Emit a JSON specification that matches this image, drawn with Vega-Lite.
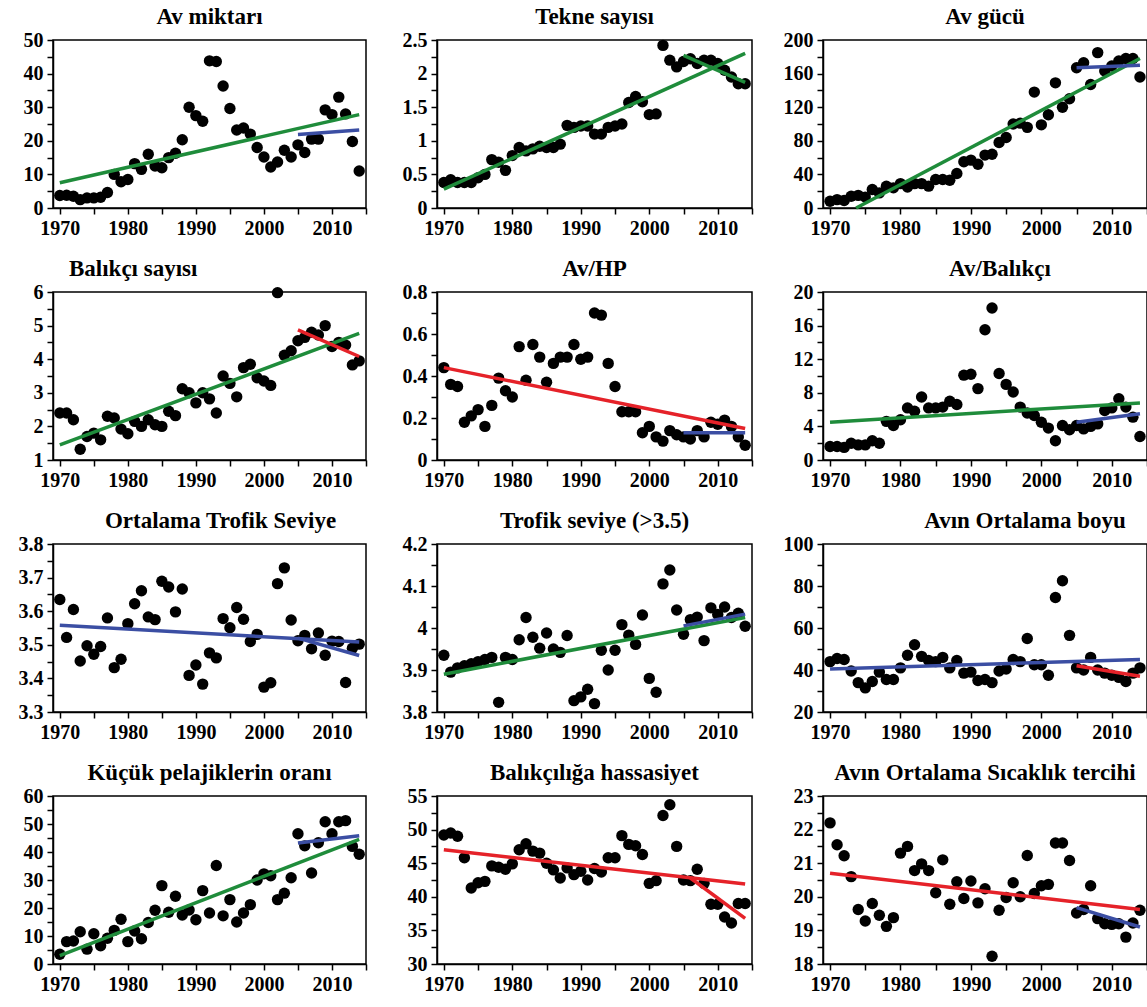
{
"$schema": "https://vega.github.io/schema/vega-lite/v6.json",
"padding": {"left": 5, "top": 5, "right": 0, "bottom": 0},
"background": "white",
"datasets": {
"p1": [{"year":1970,"v":3.7},{"year":1971,"v":3.8},{"year":1972,"v":3.5},{"year":1973,"v":2.5},{"year":1974,"v":3},{"year":1975,"v":3},{"year":1976,"v":3.2},{"year":1977,"v":4.6},{"year":1978,"v":10},{"year":1979,"v":7.8},{"year":1980,"v":8.5},{"year":1981,"v":13.2},{"year":1982,"v":11.5},{"year":1983,"v":16},{"year":1984,"v":12.5},{"year":1985,"v":12},{"year":1986,"v":15},{"year":1987,"v":16.3},{"year":1988,"v":20.3},{"year":1989,"v":30},{"year":1990,"v":27.5},{"year":1991,"v":25.8},{"year":1992,"v":43.8},{"year":1993,"v":43.6},{"year":1994,"v":36.3},{"year":1995,"v":29.6},{"year":1996,"v":23.2},{"year":1997,"v":23.8},{"year":1998,"v":22},{"year":1999,"v":18},{"year":2000,"v":15.2},{"year":2001,"v":12.2},{"year":2002,"v":13.7},{"year":2003,"v":17.2},{"year":2004,"v":15.2},{"year":2005,"v":18.8},{"year":2006,"v":16.5},{"year":2007,"v":20.5},{"year":2008,"v":20.5},{"year":2009,"v":29.2},{"year":2010,"v":27.8},{"year":2011,"v":33},{"year":2012,"v":28},{"year":2013,"v":19.8},{"year":2014,"v":11}],
"p2": [{"year":1970,"v":0.38},{"year":1971,"v":0.42},{"year":1972,"v":0.38},{"year":1973,"v":0.38},{"year":1974,"v":0.38},{"year":1975,"v":0.45},{"year":1976,"v":0.5},{"year":1977,"v":0.72},{"year":1978,"v":0.68},{"year":1979,"v":0.56},{"year":1980,"v":0.78},{"year":1981,"v":0.9},{"year":1982,"v":0.85},{"year":1983,"v":0.88},{"year":1984,"v":0.92},{"year":1985,"v":0.9},{"year":1986,"v":0.9},{"year":1987,"v":0.95},{"year":1988,"v":1.23},{"year":1989,"v":1.2},{"year":1990,"v":1.22},{"year":1991,"v":1.22},{"year":1992,"v":1.1},{"year":1993,"v":1.1},{"year":1994,"v":1.2},{"year":1995,"v":1.22},{"year":1996,"v":1.25},{"year":1997,"v":1.57},{"year":1998,"v":1.66},{"year":1999,"v":1.58},{"year":2000,"v":1.39},{"year":2001,"v":1.4},{"year":2002,"v":2.42},{"year":2003,"v":2.2},{"year":2004,"v":2.1},{"year":2005,"v":2.18},{"year":2006,"v":2.22},{"year":2007,"v":2.15},{"year":2008,"v":2.2},{"year":2009,"v":2.2},{"year":2010,"v":2.15},{"year":2011,"v":2.05},{"year":2012,"v":1.95},{"year":2013,"v":1.85},{"year":2014,"v":1.85}],
"p3": [{"year":1970,"v":8},{"year":1971,"v":10},{"year":1972,"v":9},{"year":1973,"v":14},{"year":1974,"v":15},{"year":1975,"v":13},{"year":1976,"v":22},{"year":1977,"v":18},{"year":1978,"v":26},{"year":1979,"v":24},{"year":1980,"v":29},{"year":1981,"v":25},{"year":1982,"v":29},{"year":1983,"v":29},{"year":1984,"v":26},{"year":1985,"v":34},{"year":1986,"v":34},{"year":1987,"v":33},{"year":1988,"v":41},{"year":1989,"v":55},{"year":1990,"v":57},{"year":1991,"v":52},{"year":1992,"v":63},{"year":1993,"v":64},{"year":1994,"v":78},{"year":1995,"v":84},{"year":1996,"v":100},{"year":1997,"v":101},{"year":1998,"v":96},{"year":1999,"v":138},{"year":2000,"v":99},{"year":2001,"v":111},{"year":2002,"v":149},{"year":2003,"v":120},{"year":2004,"v":130},{"year":2005,"v":167},{"year":2006,"v":173},{"year":2007,"v":147},{"year":2008,"v":185},{"year":2009,"v":163},{"year":2010,"v":169},{"year":2011,"v":175},{"year":2012,"v":178},{"year":2013,"v":178},{"year":2014,"v":156}],
"p4": [{"year":1970,"v":2.4},{"year":1971,"v":2.4},{"year":1972,"v":2.2},{"year":1973,"v":1.32},{"year":1974,"v":1.7},{"year":1975,"v":1.8},{"year":1976,"v":1.6},{"year":1977,"v":2.3},{"year":1978,"v":2.25},{"year":1979,"v":1.92},{"year":1980,"v":1.78},{"year":1981,"v":2.15},{"year":1982,"v":2.0},{"year":1983,"v":2.2},{"year":1984,"v":2.05},{"year":1985,"v":2.0},{"year":1986,"v":2.45},{"year":1987,"v":2.32},{"year":1988,"v":3.12},{"year":1989,"v":3.0},{"year":1990,"v":2.7},{"year":1991,"v":3.0},{"year":1992,"v":2.82},{"year":1993,"v":2.4},{"year":1994,"v":3.5},{"year":1995,"v":3.28},{"year":1996,"v":2.88},{"year":1997,"v":3.75},{"year":1998,"v":3.85},{"year":1999,"v":3.45},{"year":2000,"v":3.35},{"year":2001,"v":3.22},{"year":2002,"v":5.98},{"year":2003,"v":4.12},{"year":2004,"v":4.25},{"year":2005,"v":4.55},{"year":2006,"v":4.65},{"year":2007,"v":4.8},{"year":2008,"v":4.72},{"year":2009,"v":5.0},{"year":2010,"v":4.38},{"year":2011,"v":4.5},{"year":2012,"v":4.42},{"year":2013,"v":3.83},{"year":2014,"v":3.95}],
"p5": [{"year":1970,"v":0.44},{"year":1971,"v":0.36},{"year":1972,"v":0.35},{"year":1973,"v":0.18},{"year":1974,"v":0.21},{"year":1975,"v":0.24},{"year":1976,"v":0.16},{"year":1977,"v":0.26},{"year":1978,"v":0.39},{"year":1979,"v":0.33},{"year":1980,"v":0.3},{"year":1981,"v":0.54},{"year":1982,"v":0.38},{"year":1983,"v":0.55},{"year":1984,"v":0.49},{"year":1985,"v":0.37},{"year":1986,"v":0.46},{"year":1987,"v":0.49},{"year":1988,"v":0.49},{"year":1989,"v":0.55},{"year":1990,"v":0.48},{"year":1991,"v":0.49},{"year":1992,"v":0.7},{"year":1993,"v":0.69},{"year":1994,"v":0.46},{"year":1995,"v":0.35},{"year":1996,"v":0.23},{"year":1997,"v":0.23},{"year":1998,"v":0.23},{"year":1999,"v":0.13},{"year":2000,"v":0.16},{"year":2001,"v":0.11},{"year":2002,"v":0.09},{"year":2003,"v":0.14},{"year":2004,"v":0.12},{"year":2005,"v":0.11},{"year":2006,"v":0.1},{"year":2007,"v":0.14},{"year":2008,"v":0.11},{"year":2009,"v":0.18},{"year":2010,"v":0.17},{"year":2011,"v":0.19},{"year":2012,"v":0.16},{"year":2013,"v":0.11},{"year":2014,"v":0.07}],
"p6": [{"year":1970,"v":1.6},{"year":1971,"v":1.6},{"year":1972,"v":1.5},{"year":1973,"v":2.0},{"year":1974,"v":1.8},{"year":1975,"v":1.8},{"year":1976,"v":2.3},{"year":1977,"v":2.0},{"year":1978,"v":4.6},{"year":1979,"v":4.1},{"year":1980,"v":4.8},{"year":1981,"v":6.2},{"year":1982,"v":5.8},{"year":1983,"v":7.5},{"year":1984,"v":6.2},{"year":1985,"v":6.2},{"year":1986,"v":6.3},{"year":1987,"v":7.0},{"year":1988,"v":6.6},{"year":1989,"v":10.1},{"year":1990,"v":10.2},{"year":1991,"v":8.5},{"year":1992,"v":15.5},{"year":1993,"v":18.1},{"year":1994,"v":10.3},{"year":1995,"v":9.0},{"year":1996,"v":8.1},{"year":1997,"v":6.3},{"year":1998,"v":5.6},{"year":1999,"v":5.3},{"year":2000,"v":4.5},{"year":2001,"v":3.8},{"year":2002,"v":2.3},{"year":2003,"v":4.1},{"year":2004,"v":3.6},{"year":2005,"v":4.1},{"year":2006,"v":3.7},{"year":2007,"v":4.0},{"year":2008,"v":4.3},{"year":2009,"v":5.9},{"year":2010,"v":6.2},{"year":2011,"v":7.3},{"year":2012,"v":6.3},{"year":2013,"v":5.1},{"year":2014,"v":2.8}],
"p7": [{"year":1970,"v":3.635},{"year":1971,"v":3.522},{"year":1972,"v":3.605},{"year":1973,"v":3.452},{"year":1974,"v":3.497},{"year":1975,"v":3.472},{"year":1976,"v":3.495},{"year":1977,"v":3.58},{"year":1978,"v":3.432},{"year":1979,"v":3.457},{"year":1980,"v":3.563},{"year":1981,"v":3.622},{"year":1982,"v":3.661},{"year":1983,"v":3.583},{"year":1984,"v":3.575},{"year":1985,"v":3.689},{"year":1986,"v":3.672},{"year":1987,"v":3.598},{"year":1988,"v":3.666},{"year":1989,"v":3.409},{"year":1990,"v":3.44},{"year":1991,"v":3.383},{"year":1992,"v":3.476},{"year":1993,"v":3.461},{"year":1994,"v":3.578},{"year":1995,"v":3.551},{"year":1996,"v":3.611},{"year":1997,"v":3.576},{"year":1998,"v":3.51},{"year":1999,"v":3.531},{"year":2000,"v":3.374},{"year":2001,"v":3.387},{"year":2002,"v":3.682},{"year":2003,"v":3.729},{"year":2004,"v":3.574},{"year":2005,"v":3.512},{"year":2006,"v":3.528},{"year":2007,"v":3.488},{"year":2008,"v":3.535},{"year":2009,"v":3.469},{"year":2010,"v":3.511},{"year":2011,"v":3.51},{"year":2012,"v":3.388},{"year":2013,"v":3.49},{"year":2014,"v":3.502}],
"p8": [{"year":1970,"v":3.935},{"year":1971,"v":3.895},{"year":1972,"v":3.905},{"year":1973,"v":3.91},{"year":1974,"v":3.915},{"year":1975,"v":3.92},{"year":1976,"v":3.925},{"year":1977,"v":3.93},{"year":1978,"v":3.823},{"year":1979,"v":3.93},{"year":1980,"v":3.925},{"year":1981,"v":3.972},{"year":1982,"v":4.025},{"year":1983,"v":3.978},{"year":1984,"v":3.952},{"year":1985,"v":3.988},{"year":1986,"v":3.95},{"year":1987,"v":3.942},{"year":1988,"v":3.982},{"year":1989,"v":3.827},{"year":1990,"v":3.836},{"year":1991,"v":3.854},{"year":1992,"v":3.82},{"year":1993,"v":3.947},{"year":1994,"v":3.9},{"year":1995,"v":3.947},{"year":1996,"v":4.008},{"year":1997,"v":3.983},{"year":1998,"v":3.961},{"year":1999,"v":4.031},{"year":2000,"v":3.88},{"year":2001,"v":3.847},{"year":2002,"v":4.105},{"year":2003,"v":4.138},{"year":2004,"v":4.043},{"year":2005,"v":3.985},{"year":2006,"v":4.02},{"year":2007,"v":4.026},{"year":2008,"v":3.97},{"year":2009,"v":4.048},{"year":2010,"v":4.032},{"year":2011,"v":4.05},{"year":2012,"v":4.025},{"year":2013,"v":4.035},{"year":2014,"v":4.004}],
"p9": [{"year":1970,"v":44},{"year":1971,"v":45.5},{"year":1972,"v":45},{"year":1973,"v":39.5},{"year":1974,"v":34},{"year":1975,"v":31.5},{"year":1976,"v":34.5},{"year":1977,"v":39},{"year":1978,"v":35.5},{"year":1979,"v":35.5},{"year":1980,"v":41},{"year":1981,"v":47},{"year":1982,"v":52},{"year":1983,"v":46.5},{"year":1984,"v":44.5},{"year":1985,"v":44},{"year":1986,"v":46},{"year":1987,"v":41},{"year":1988,"v":44.5},{"year":1989,"v":38.5},{"year":1990,"v":39},{"year":1991,"v":35},{"year":1992,"v":35.5},{"year":1993,"v":34},{"year":1994,"v":39.5},{"year":1995,"v":40.5},{"year":1996,"v":45},{"year":1997,"v":44},{"year":1998,"v":55},{"year":1999,"v":42.5},{"year":2000,"v":42.5},{"year":2001,"v":37.5},{"year":2002,"v":74.5},{"year":2003,"v":82.5},{"year":2004,"v":56.5},{"year":2005,"v":41},{"year":2006,"v":40},{"year":2007,"v":46},{"year":2008,"v":40},{"year":2009,"v":38.5},{"year":2010,"v":37.5},{"year":2011,"v":36.5},{"year":2012,"v":34.5},{"year":2013,"v":38.5},{"year":2014,"v":41}],
"p10": [{"year":1970,"v":3.5},{"year":1971,"v":8},{"year":1972,"v":8.2},{"year":1973,"v":11.5},{"year":1974,"v":5.3},{"year":1975,"v":10.8},{"year":1976,"v":6.5},{"year":1977,"v":9.2},{"year":1978,"v":12},{"year":1979,"v":16},{"year":1980,"v":8},{"year":1981,"v":11.8},{"year":1982,"v":9},{"year":1983,"v":14.8},{"year":1984,"v":19.2},{"year":1985,"v":28},{"year":1986,"v":18.5},{"year":1987,"v":24.2},{"year":1988,"v":17.5},{"year":1989,"v":19.3},{"year":1990,"v":15.8},{"year":1991,"v":26.2},{"year":1992,"v":18.2},{"year":1993,"v":35.2},{"year":1994,"v":17.2},{"year":1995,"v":23},{"year":1996,"v":15},{"year":1997,"v":18.2},{"year":1998,"v":21.2},{"year":1999,"v":30},{"year":2000,"v":32.2},{"year":2001,"v":31.5},{"year":2002,"v":23},{"year":2003,"v":25.3},{"year":2004,"v":30.8},{"year":2005,"v":46.5},{"year":2006,"v":42.2},{"year":2007,"v":32.5},{"year":2008,"v":43.3},{"year":2009,"v":50.8},{"year":2010,"v":46.5},{"year":2011,"v":50.8},{"year":2012,"v":51.2},{"year":2013,"v":42},{"year":2014,"v":39.2}],
"p11": [{"year":1970,"v":49.2},{"year":1971,"v":49.5},{"year":1972,"v":49},{"year":1973,"v":45.8},{"year":1974,"v":41.3},{"year":1975,"v":42.1},{"year":1976,"v":42.3},{"year":1977,"v":44.6},{"year":1978,"v":44.4},{"year":1979,"v":44.1},{"year":1980,"v":44.9},{"year":1981,"v":47},{"year":1982,"v":47.9},{"year":1983,"v":46.8},{"year":1984,"v":46.5},{"year":1985,"v":45},{"year":1986,"v":44},{"year":1987,"v":42.8},{"year":1988,"v":44.3},{"year":1989,"v":43.3},{"year":1990,"v":43.8},{"year":1991,"v":42.5},{"year":1992,"v":44.2},{"year":1993,"v":43.7},{"year":1994,"v":45.8},{"year":1995,"v":45.8},{"year":1996,"v":49.1},{"year":1997,"v":47.8},{"year":1998,"v":47.6},{"year":1999,"v":46.3},{"year":2000,"v":42},{"year":2001,"v":42.4},{"year":2002,"v":52.1},{"year":2003,"v":53.7},{"year":2004,"v":47.5},{"year":2005,"v":42.5},{"year":2006,"v":42.4},{"year":2007,"v":44.1},{"year":2008,"v":42},{"year":2009,"v":38.9},{"year":2010,"v":38.9},{"year":2011,"v":37},{"year":2012,"v":36.1},{"year":2013,"v":39},{"year":2014,"v":39}],
"p12": [{"year":1970,"v":22.2},{"year":1971,"v":21.55},{"year":1972,"v":21.22},{"year":1973,"v":20.6},{"year":1974,"v":19.62},{"year":1975,"v":19.28},{"year":1976,"v":19.8},{"year":1977,"v":19.45},{"year":1978,"v":19.12},{"year":1979,"v":19.38},{"year":1980,"v":21.3},{"year":1981,"v":21.5},{"year":1982,"v":20.78},{"year":1983,"v":20.98},{"year":1984,"v":20.78},{"year":1985,"v":20.12},{"year":1986,"v":21.1},{"year":1987,"v":19.78},{"year":1988,"v":20.45},{"year":1989,"v":19.95},{"year":1990,"v":20.47},{"year":1991,"v":19.82},{"year":1992,"v":20.24},{"year":1993,"v":18.23},{"year":1994,"v":19.6},{"year":1995,"v":19.98},{"year":1996,"v":20.42},{"year":1997,"v":20.0},{"year":1998,"v":21.23},{"year":1999,"v":20.1},{"year":2000,"v":20.33},{"year":2001,"v":20.37},{"year":2002,"v":21.6},{"year":2003,"v":21.6},{"year":2004,"v":21.08},{"year":2005,"v":19.52},{"year":2006,"v":19.62},{"year":2007,"v":20.33},{"year":2008,"v":19.35},{"year":2009,"v":19.2},{"year":2010,"v":19.18},{"year":2011,"v":19.2},{"year":2012,"v":18.8},{"year":2013,"v":19.22},{"year":2014,"v":19.6}],
"lines": [
{"p":1,"seg":"a","cls":"green","year":1970,"v":7.5},{"p":1,"seg":"a","cls":"green","year":2014,"v":27.8},
{"p":1,"seg":"b","cls":"blue","year":2005,"v":21.9},{"p":1,"seg":"b","cls":"blue","year":2014,"v":23.2},
{"p":2,"seg":"a","cls":"green","year":1970,"v":0.28},{"p":2,"seg":"a","cls":"green","year":2014,"v":2.3},
{"p":2,"seg":"b","cls":"green","year":2005,"v":2.27},{"p":2,"seg":"b","cls":"green","year":2014,"v":1.87},
{"p":3,"seg":"a","cls":"green","year":1973.7,"v":0},{"p":3,"seg":"a","cls":"green","year":2014,"v":178},
{"p":3,"seg":"b","cls":"blue","year":2005,"v":167},{"p":3,"seg":"b","cls":"blue","year":2014,"v":170},
{"p":4,"seg":"a","cls":"green","year":1970,"v":1.45},{"p":4,"seg":"a","cls":"green","year":2014,"v":4.77},
{"p":4,"seg":"b","cls":"red","year":2005,"v":4.87},{"p":4,"seg":"b","cls":"red","year":2014,"v":4.08},
{"p":5,"seg":"a","cls":"red","year":1970,"v":0.44},{"p":5,"seg":"a","cls":"red","year":2014,"v":0.15},
{"p":5,"seg":"b","cls":"blue","year":2005,"v":0.13},{"p":5,"seg":"b","cls":"blue","year":2014,"v":0.13},
{"p":6,"seg":"a","cls":"green","year":1970,"v":4.5},{"p":6,"seg":"a","cls":"green","year":2014,"v":6.8},
{"p":6,"seg":"b","cls":"blue","year":2005,"v":4.5},{"p":6,"seg":"b","cls":"blue","year":2014,"v":5.5},
{"p":7,"seg":"a","cls":"blue","year":1970,"v":3.558},{"p":7,"seg":"a","cls":"blue","year":2014,"v":3.508},
{"p":7,"seg":"b","cls":"blue","year":2005,"v":3.52},{"p":7,"seg":"b","cls":"blue","year":2014,"v":3.468},
{"p":8,"seg":"a","cls":"green","year":1970,"v":3.89},{"p":8,"seg":"a","cls":"green","year":2014,"v":4.025},
{"p":8,"seg":"b","cls":"blue","year":2005,"v":4.005},{"p":8,"seg":"b","cls":"blue","year":2014,"v":4.033},
{"p":9,"seg":"a","cls":"blue","year":1970,"v":40.5},{"p":9,"seg":"a","cls":"blue","year":2014,"v":45},
{"p":9,"seg":"b","cls":"red","year":2005,"v":42},{"p":9,"seg":"b","cls":"red","year":2014,"v":37},
{"p":10,"seg":"a","cls":"green","year":1970,"v":3},{"p":10,"seg":"a","cls":"green","year":2014,"v":44.5},
{"p":10,"seg":"b","cls":"blue","year":2005,"v":43.2},{"p":10,"seg":"b","cls":"blue","year":2014,"v":45.8},
{"p":11,"seg":"a","cls":"red","year":1970,"v":47},{"p":11,"seg":"a","cls":"red","year":2014,"v":41.9},
{"p":11,"seg":"b","cls":"red","year":2006,"v":42.8},{"p":11,"seg":"b","cls":"red","year":2014,"v":36.8},
{"p":12,"seg":"a","cls":"red","year":1970,"v":20.7},{"p":12,"seg":"a","cls":"red","year":2014,"v":19.62},
{"p":12,"seg":"b","cls":"blue","year":2005,"v":19.68},{"p":12,"seg":"b","cls":"blue","year":2014,"v":19.1}
]
},
"spacing": 18,
"vconcat": [
{"spacing": 21, "hconcat": [
{"width": 313, "height": 168, "title": {"text": "Av miktarı"},
 "encoding": {
  "x": {"field": "year", "type": "quantitative", "scale": {"domain": [1969, 2015], "nice": false, "zero": false}, "axis": {"title": null, "values": [1970,1975,1980,1985,1990,1995,2000,2005,2010,2015], "format": "d", "labelExpr": "datum.value % 10 == 0 ? datum.label : ''"}},
  "y": {"field": "v", "type": "quantitative", "scale": {"domain": [0, 50], "nice": false, "zero": false}, "axis": {"title": null, "values": [0,5,10,15,20,25,30,35,40,45,50], "format": ".6~g", "labelExpr": "datum.value % 10 == 0 ? datum.label : ''"}}},
 "layer": [
  {"data": {"name": "p1"}, "mark": {"type": "circle", "size": 130, "color": "black", "opacity": 1}},
  {"data": {"name": "lines"}, "transform": [{"filter": "datum.p == 1"}], "mark": {"type": "line", "strokeWidth": 3.5}, "encoding": {"detail": {"field": "seg"}, "color": {"field": "cls", "type": "nominal", "scale": {"domain": ["green","red","blue"], "range": ["#1f8c3b","#e52229","#3b4ea3"]}, "legend": null}}}
 ]},
{"width": 315, "height": 168, "title": {"text": "Tekne sayısı"},
 "encoding": {
  "x": {"field": "year", "type": "quantitative", "scale": {"domain": [1969, 2015], "nice": false, "zero": false}, "axis": {"title": null, "values": [1970,1975,1980,1985,1990,1995,2000,2005,2010,2015], "format": "d", "labelExpr": "datum.value % 10 == 0 ? datum.label : ''"}},
  "y": {"field": "v", "type": "quantitative", "scale": {"domain": [0, 2.5], "nice": false, "zero": false}, "axis": {"title": null, "values": [0,0.25,0.5,0.75,1,1.25,1.5,1.75,2,2.25,2.5], "format": ".6~g", "labelExpr": "abs(datum.value*2 - round(datum.value*2)) < 0.001 ? datum.label : ''"}}},
 "layer": [
  {"data": {"name": "p2"}, "mark": {"type": "circle", "size": 130, "color": "black", "opacity": 1}},
  {"data": {"name": "lines"}, "transform": [{"filter": "datum.p == 2"}], "mark": {"type": "line", "strokeWidth": 3.5}, "encoding": {"detail": {"field": "seg"}, "color": {"field": "cls", "type": "nominal", "scale": {"domain": ["green","red","blue"], "range": ["#1f8c3b","#e52229","#3b4ea3"]}, "legend": null}}}
 ]},
{"width": 324, "height": 168, "title": {"text": "Av gücü"},
 "encoding": {
  "x": {"field": "year", "type": "quantitative", "scale": {"domain": [1969, 2015], "nice": false, "zero": false}, "axis": {"title": null, "values": [1970,1975,1980,1985,1990,1995,2000,2005,2010,2015], "format": "d", "labelExpr": "datum.value % 10 == 0 ? datum.label : ''"}},
  "y": {"field": "v", "type": "quantitative", "scale": {"domain": [0, 200], "nice": false, "zero": false}, "axis": {"title": null, "values": [0,20,40,60,80,100,120,140,160,180,200], "format": ".6~g", "labelExpr": "datum.value % 40 == 0 ? datum.label : ''"}}},
 "layer": [
  {"data": {"name": "p3"}, "mark": {"type": "circle", "size": 130, "color": "black", "opacity": 1}},
  {"data": {"name": "lines"}, "transform": [{"filter": "datum.p == 3"}], "mark": {"type": "line", "strokeWidth": 3.5}, "encoding": {"detail": {"field": "seg"}, "color": {"field": "cls", "type": "nominal", "scale": {"domain": ["green","red","blue"], "range": ["#1f8c3b","#e52229","#3b4ea3"]}, "legend": null}}}
 ]}
]},
{"spacing": 21, "hconcat": [
{"width": 313, "height": 168, "title": {"text": "Balıkçı sayısı", "anchor": "start", "dx": 63},
 "encoding": {
  "x": {"field": "year", "type": "quantitative", "scale": {"domain": [1969, 2015], "nice": false, "zero": false}, "axis": {"title": null, "values": [1970,1975,1980,1985,1990,1995,2000,2005,2010,2015], "format": "d", "labelExpr": "datum.value % 10 == 0 ? datum.label : ''"}},
  "y": {"field": "v", "type": "quantitative", "scale": {"domain": [1, 6], "nice": false, "zero": false}, "axis": {"title": null, "values": [1,1.5,2,2.5,3,3.5,4,4.5,5,5.5,6], "format": ".6~g", "labelExpr": "abs(datum.value - round(datum.value)) < 0.001 ? datum.label : ''"}}},
 "layer": [
  {"data": {"name": "p4"}, "mark": {"type": "circle", "size": 130, "color": "black", "opacity": 1}},
  {"data": {"name": "lines"}, "transform": [{"filter": "datum.p == 4"}], "mark": {"type": "line", "strokeWidth": 3.5}, "encoding": {"detail": {"field": "seg"}, "color": {"field": "cls", "type": "nominal", "scale": {"domain": ["green","red","blue"], "range": ["#1f8c3b","#e52229","#3b4ea3"]}, "legend": null}}}
 ]},
{"width": 315, "height": 168, "title": {"text": "Av/HP"},
 "encoding": {
  "x": {"field": "year", "type": "quantitative", "scale": {"domain": [1969, 2015], "nice": false, "zero": false}, "axis": {"title": null, "values": [1970,1975,1980,1985,1990,1995,2000,2005,2010,2015], "format": "d", "labelExpr": "datum.value % 10 == 0 ? datum.label : ''"}},
  "y": {"field": "v", "type": "quantitative", "scale": {"domain": [0, 0.8], "nice": false, "zero": false}, "axis": {"title": null, "values": [0,0.1,0.2,0.3,0.4,0.5,0.6,0.7,0.8], "format": ".6~g", "labelExpr": "abs(datum.value*5 - round(datum.value*5)) < 0.001 ? datum.label : ''"}}},
 "layer": [
  {"data": {"name": "p5"}, "mark": {"type": "circle", "size": 130, "color": "black", "opacity": 1}},
  {"data": {"name": "lines"}, "transform": [{"filter": "datum.p == 5"}], "mark": {"type": "line", "strokeWidth": 3.5}, "encoding": {"detail": {"field": "seg"}, "color": {"field": "cls", "type": "nominal", "scale": {"domain": ["green","red","blue"], "range": ["#1f8c3b","#e52229","#3b4ea3"]}, "legend": null}}}
 ]},
{"width": 324, "height": 168, "title": {"text": "Av/Balıkçı", "dx": 15},
 "encoding": {
  "x": {"field": "year", "type": "quantitative", "scale": {"domain": [1969, 2015], "nice": false, "zero": false}, "axis": {"title": null, "values": [1970,1975,1980,1985,1990,1995,2000,2005,2010,2015], "format": "d", "labelExpr": "datum.value % 10 == 0 ? datum.label : ''"}},
  "y": {"field": "v", "type": "quantitative", "scale": {"domain": [0, 20], "nice": false, "zero": false}, "axis": {"title": null, "values": [0,2,4,6,8,10,12,14,16,18,20], "format": ".6~g", "labelExpr": "datum.value % 4 == 0 ? datum.label : ''"}}},
 "layer": [
  {"data": {"name": "p6"}, "mark": {"type": "circle", "size": 130, "color": "black", "opacity": 1}},
  {"data": {"name": "lines"}, "transform": [{"filter": "datum.p == 6"}], "mark": {"type": "line", "strokeWidth": 3.5}, "encoding": {"detail": {"field": "seg"}, "color": {"field": "cls", "type": "nominal", "scale": {"domain": ["green","red","blue"], "range": ["#1f8c3b","#e52229","#3b4ea3"]}, "legend": null}}}
 ]}
]},
{"spacing": 21, "hconcat": [
{"width": 313, "height": 168, "title": {"text": "Ortalama Trofik Seviye", "dx": 11},
 "encoding": {
  "x": {"field": "year", "type": "quantitative", "scale": {"domain": [1969, 2015], "nice": false, "zero": false}, "axis": {"title": null, "values": [1970,1975,1980,1985,1990,1995,2000,2005,2010,2015], "format": "d", "labelExpr": "datum.value % 10 == 0 ? datum.label : ''"}},
  "y": {"field": "v", "type": "quantitative", "scale": {"domain": [3.3, 3.8], "nice": false, "zero": false}, "axis": {"title": null, "values": [3.3,3.35,3.4,3.45,3.5,3.55,3.6,3.65,3.7,3.75,3.8], "format": ".6~g", "labelExpr": "abs(datum.value*10 - round(datum.value*10)) < 0.001 ? datum.label : ''"}}},
 "layer": [
  {"data": {"name": "p7"}, "mark": {"type": "circle", "size": 130, "color": "black", "opacity": 1}},
  {"data": {"name": "lines"}, "transform": [{"filter": "datum.p == 7"}], "mark": {"type": "line", "strokeWidth": 3.5}, "encoding": {"detail": {"field": "seg"}, "color": {"field": "cls", "type": "nominal", "scale": {"domain": ["green","red","blue"], "range": ["#1f8c3b","#e52229","#3b4ea3"]}, "legend": null}}}
 ]},
{"width": 315, "height": 168, "title": {"text": "Trofik seviye (>3.5)"},
 "encoding": {
  "x": {"field": "year", "type": "quantitative", "scale": {"domain": [1969, 2015], "nice": false, "zero": false}, "axis": {"title": null, "values": [1970,1975,1980,1985,1990,1995,2000,2005,2010,2015], "format": "d", "labelExpr": "datum.value % 10 == 0 ? datum.label : ''"}},
  "y": {"field": "v", "type": "quantitative", "scale": {"domain": [3.8, 4.2], "nice": false, "zero": false}, "axis": {"title": null, "values": [3.8,3.85,3.9,3.95,4,4.05,4.1,4.15,4.2], "format": ".6~g", "labelExpr": "abs(datum.value*10 - round(datum.value*10)) < 0.001 ? datum.label : ''"}}},
 "layer": [
  {"data": {"name": "p8"}, "mark": {"type": "circle", "size": 130, "color": "black", "opacity": 1}},
  {"data": {"name": "lines"}, "transform": [{"filter": "datum.p == 8"}], "mark": {"type": "line", "strokeWidth": 3.5}, "encoding": {"detail": {"field": "seg"}, "color": {"field": "cls", "type": "nominal", "scale": {"domain": ["green","red","blue"], "range": ["#1f8c3b","#e52229","#3b4ea3"]}, "legend": null}}}
 ]},
{"width": 324, "height": 168, "title": {"text": "Avın Ortalama boyu", "dx": 40},
 "encoding": {
  "x": {"field": "year", "type": "quantitative", "scale": {"domain": [1969, 2015], "nice": false, "zero": false}, "axis": {"title": null, "values": [1970,1975,1980,1985,1990,1995,2000,2005,2010,2015], "format": "d", "labelExpr": "datum.value % 10 == 0 ? datum.label : ''"}},
  "y": {"field": "v", "type": "quantitative", "scale": {"domain": [20, 100], "nice": false, "zero": false}, "axis": {"title": null, "values": [20,30,40,50,60,70,80,90,100], "format": ".6~g", "labelExpr": "datum.value % 20 == 0 ? datum.label : ''"}}},
 "layer": [
  {"data": {"name": "p9"}, "mark": {"type": "circle", "size": 130, "color": "black", "opacity": 1}},
  {"data": {"name": "lines"}, "transform": [{"filter": "datum.p == 9"}], "mark": {"type": "line", "strokeWidth": 3.5}, "encoding": {"detail": {"field": "seg"}, "color": {"field": "cls", "type": "nominal", "scale": {"domain": ["green","red","blue"], "range": ["#1f8c3b","#e52229","#3b4ea3"]}, "legend": null}}}
 ]}
]},
{"spacing": 21, "hconcat": [
{"width": 313, "height": 168, "title": {"text": "Küçük pelajiklerin  oranı"},
 "encoding": {
  "x": {"field": "year", "type": "quantitative", "scale": {"domain": [1969, 2015], "nice": false, "zero": false}, "axis": {"title": null, "values": [1970,1975,1980,1985,1990,1995,2000,2005,2010,2015], "format": "d", "labelExpr": "datum.value % 10 == 0 ? datum.label : ''"}},
  "y": {"field": "v", "type": "quantitative", "scale": {"domain": [0, 60], "nice": false, "zero": false}, "axis": {"title": null, "values": [0,5,10,15,20,25,30,35,40,45,50,55,60], "format": ".6~g", "labelExpr": "datum.value % 10 == 0 ? datum.label : ''"}}},
 "layer": [
  {"data": {"name": "p10"}, "mark": {"type": "circle", "size": 130, "color": "black", "opacity": 1}},
  {"data": {"name": "lines"}, "transform": [{"filter": "datum.p == 10"}], "mark": {"type": "line", "strokeWidth": 3.5}, "encoding": {"detail": {"field": "seg"}, "color": {"field": "cls", "type": "nominal", "scale": {"domain": ["green","red","blue"], "range": ["#1f8c3b","#e52229","#3b4ea3"]}, "legend": null}}}
 ]},
{"width": 315, "height": 168, "title": {"text": "Balıkçılığa  hassasiyet"},
 "encoding": {
  "x": {"field": "year", "type": "quantitative", "scale": {"domain": [1969, 2015], "nice": false, "zero": false}, "axis": {"title": null, "values": [1970,1975,1980,1985,1990,1995,2000,2005,2010,2015], "format": "d", "labelExpr": "datum.value % 10 == 0 ? datum.label : ''"}},
  "y": {"field": "v", "type": "quantitative", "scale": {"domain": [30, 55], "nice": false, "zero": false}, "axis": {"title": null, "values": [30,32.5,35,37.5,40,42.5,45,47.5,50,52.5,55], "format": ".6~g", "labelExpr": "datum.value % 5 == 0 ? datum.label : ''"}}},
 "layer": [
  {"data": {"name": "p11"}, "mark": {"type": "circle", "size": 130, "color": "black", "opacity": 1}},
  {"data": {"name": "lines"}, "transform": [{"filter": "datum.p == 11"}], "mark": {"type": "line", "strokeWidth": 3.5}, "encoding": {"detail": {"field": "seg"}, "color": {"field": "cls", "type": "nominal", "scale": {"domain": ["green","red","blue"], "range": ["#1f8c3b","#e52229","#3b4ea3"]}, "legend": null}}}
 ]},
{"width": 324, "height": 168, "title": {"text": "Avın Ortalama Sıcaklık tercihi"},
 "encoding": {
  "x": {"field": "year", "type": "quantitative", "scale": {"domain": [1969, 2015], "nice": false, "zero": false}, "axis": {"title": null, "values": [1970,1975,1980,1985,1990,1995,2000,2005,2010,2015], "format": "d", "labelExpr": "datum.value % 10 == 0 ? datum.label : ''"}},
  "y": {"field": "v", "type": "quantitative", "scale": {"domain": [18, 23], "nice": false, "zero": false}, "axis": {"title": null, "values": [18,18.5,19,19.5,20,20.5,21,21.5,22,22.5,23], "format": ".6~g", "labelExpr": "abs(datum.value - round(datum.value)) < 0.001 ? datum.label : ''"}}},
 "layer": [
  {"data": {"name": "p12"}, "mark": {"type": "circle", "size": 130, "color": "black", "opacity": 1}},
  {"data": {"name": "lines"}, "transform": [{"filter": "datum.p == 12"}], "mark": {"type": "line", "strokeWidth": 3.5}, "encoding": {"detail": {"field": "seg"}, "color": {"field": "cls", "type": "nominal", "scale": {"domain": ["green","red","blue"], "range": ["#1f8c3b","#e52229","#3b4ea3"]}, "legend": null}}}
 ]}
]}
],
"config": {
 "font": "Liberation Serif, Times New Roman, DejaVu Serif, serif",
 "view": {"stroke": "black", "strokeWidth": 1.5},
 "axis": {"domainColor": "black", "domainWidth": 1.5, "tickColor": "black", "tickWidth": 1.5, "tickSize": 6, "labelFont": "Liberation Serif, Times New Roman, DejaVu Serif, serif", "labelFontSize": 20, "labelFontWeight": "bold", "labelColor": "black", "labelPadding": 4, "grid": false, "labelOverlap": false, "labelFlush": false},
 "axisY": {"minExtent": 47, "maxExtent": 47},
 "title": {"font": "Liberation Serif, Times New Roman, DejaVu Serif, serif", "fontSize": 23, "fontWeight": "bold", "color": "black", "offset": 1, "anchor": "middle"}
}
}
